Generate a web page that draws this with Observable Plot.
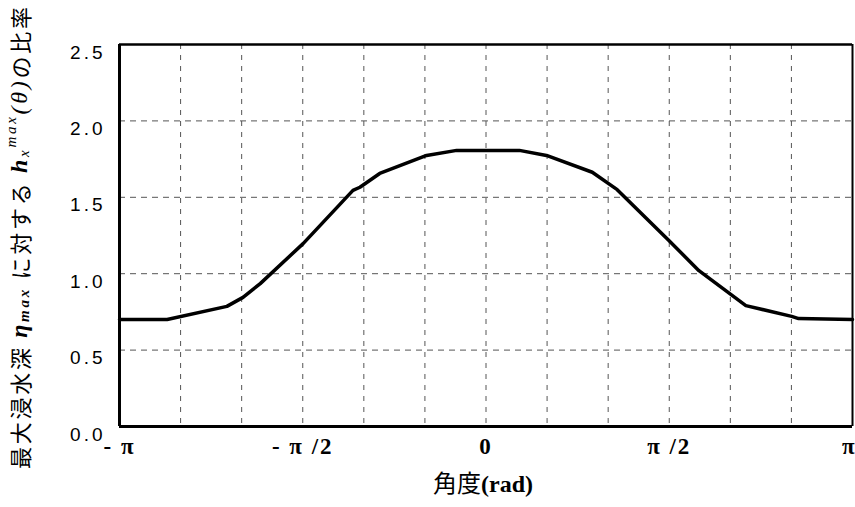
<!DOCTYPE html>
<html><head><meta charset="utf-8">
<script src="https://cdn.jsdelivr.net/npm/d3@7"></script>
<script src="https://cdn.jsdelivr.net/npm/@observablehq/plot@0.6"></script>
<style>
body{margin:0;background:#fff;}
#chart{position:relative;width:855px;height:507px;overflow:hidden;}
#chart svg{display:block;}
</style></head><body><div id="chart"></div>
<script>
// angle in units of π, ratio value
const angleOverPi = [-1, -0.870, -0.707, -0.663, -0.616, -0.499, -0.363, -0.344, -0.290, -0.162, -0.080, 0.091, 0.165, 0.290, 0.358, 0.499, 0.581, 0.709, 0.834, 0.853, 1];
const ratio = [0.70, 0.70, 0.786, 0.845, 0.935, 1.197, 1.545, 1.566, 1.656, 1.774, 1.807, 1.807, 1.774, 1.664, 1.55, 1.217, 1.02, 0.791, 0.721, 0.706, 0.70];
const xTicks = [-1, -0.5, 0, 0.5, 1];
const xTickLabels = ["- π", "- π /2", "0", "π /2", "π"];
const xGrid = [-5/6, -4/6, -3/6, -2/6, -1/6, 0, 1/6, 2/6, 3/6, 4/6, 5/6];
const yTicks = [0, 0.5, 1.0, 1.5, 2.0, 2.5];
const yGrid = [0.5, 1.0, 1.5, 2.0];

const data = angleOverPi.map((a, i) => ({a, r: ratio[i]}));

const plot = Plot.plot({
  width: 855, height: 507,
  marginLeft: 119, marginRight: 3, marginTop: 44, marginBottom: 81,
  x: {domain: [-1, 1]},
  y: {domain: [0, 2.5]},
  style: {background: "#fff", overflow: "visible"},
  marks: [
    Plot.ruleX(xGrid, {stroke: "#555", strokeDasharray: "5,6", strokeWidth: 1}),
    Plot.ruleY(yGrid, {stroke: "#555", strokeDasharray: "6,5", strokeWidth: 1}),
    Plot.line(data, {x: "a", y: "r", stroke: "#000", strokeWidth: 3.5, strokeLinejoin: "round", curve: "linear"}),
    Plot.ruleX([1], {stroke: "#000", strokeWidth: 2}),
    Plot.ruleY([2.5], {stroke: "#000", strokeWidth: 2.5}),
    Plot.ruleX([-1], {stroke: "#000", strokeWidth: 3}),
    Plot.ruleY([0], {stroke: "#000", strokeWidth: 3}),
    Plot.axisX(xTicks, {tickSize: 0, tickPadding: 11, label: null,
      tickFormat: d => xTickLabels[xTicks.indexOf(d)],
      fontSize: 23, fontFamily: "Liberation Serif", fontWeight: "bold", fill: "#000"}),
    Plot.axisY(yTicks, {tickSize: 0, tickPadding: 14, label: null,
      tickFormat: d => d.toFixed(1),
      fontSize: 19, fontFamily: "Liberation Sans", fill: "#000"})
  ]
});
document.getElementById("chart").appendChild(plot);

const svg = d3.select(plot);
svg.selectAll('[aria-label="y-axis tick label"] text').style("letter-spacing", "3px").attr("dy", "0.42em");
const xt = svg.selectAll('[aria-label="x-axis tick label"] text').style("letter-spacing", "2px");
// keep the rightmost label inside the frame
xt.filter((d, i, n) => i === n.length - 1).attr("text-anchor", "end").attr("dx", "4");

// y-axis title
const yt = svg.append("text")
  .attr("transform", "translate(19,238) rotate(-90)")
  .attr("text-anchor", "middle")
  .attr("dominant-baseline", "central")
  .attr("textLength", 462)
  .attr("lengthAdjust", "spacing")
  .style("font-size", "22px")
  .style("font-family", "'Noto Sans CJK JP', sans-serif")
  .attr("fill", "#000");
yt.append("tspan").text("最大浸水深 ");
yt.append("tspan").style("font-family", "Liberation Serif").style("font-style", "italic").style("font-weight", "bold").style("font-size", "24px").text("η");
yt.append("tspan").style("font-family", "Liberation Serif").style("font-style", "italic").style("font-weight", "bold").style("font-size", "15px").attr("dy", "5").text("max");
yt.append("tspan").attr("dy", "-5").text(" に対する ");
yt.append("tspan").style("font-family", "Liberation Serif").style("font-style", "italic").style("font-weight", "bold").style("font-size", "24px").text("h");
yt.append("tspan").style("font-family", "Liberation Serif").style("font-style", "italic").style("font-size", "15px").attr("dy", "5").text("x");
yt.append("tspan").style("font-family", "Liberation Serif").style("font-style", "italic").style("font-size", "15px").attr("dy", "-13").text("max");
yt.append("tspan").style("font-family", "Liberation Serif").style("font-style", "italic").style("font-size", "24px").attr("dy", "8").text("(θ)");
yt.append("tspan").text("の比率");

// x-axis title
const xtT = svg.append("text")
  .attr("x", 483).attr("y", 492)
  .attr("text-anchor", "middle")
  .style("font-size", "24px")
  .attr("fill", "#000");
xtT.append("tspan").style("font-family", "'Noto Sans CJK JP', sans-serif").text("角度");
xtT.append("tspan").style("font-family", "Liberation Serif").style("font-weight", "bold").text("(rad)");
</script>
</body></html>
